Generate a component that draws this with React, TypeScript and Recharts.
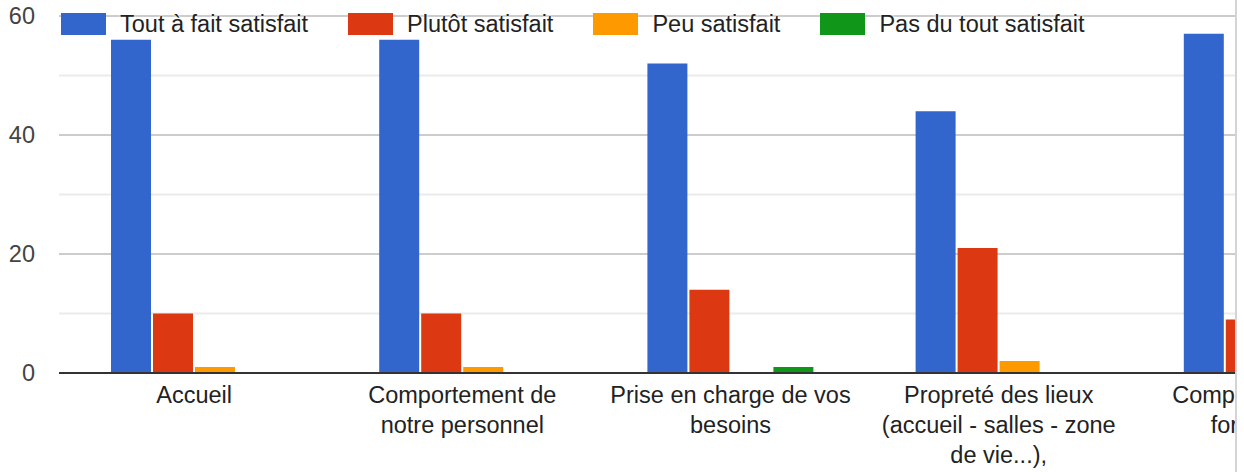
import React from "react";
import { BarChart, Bar, XAxis, YAxis, CartesianGrid } from "recharts";

// wrapped labels as drawn under the axis
const categoryLines = [
  ["Accueil"],
  ["Comportement de", "notre personnel"],
  ["Prise en charge de vos", "besoins"],
  ["Propreté des lieux", "(accueil - salles - zone", "de vie...),"],
  ["Compétences des", "formateurs"],
];
const categories = categoryLines.map(l => l.join(" "));

const toutAFait = [56, 56, 52, 44, 57];
const plutot = [10, 10, 14, 21, 9];
const peu = [1, 1, 0, 2, 0];
const pasDuTout = [0, 0, 1, 0, 0];

const yTicks = [0, 10, 20, 30, 40, 50, 60];

const series = [
  { key: "tout", name: "Tout à fait satisfait", color: "#3366cc" },
  { key: "plutot", name: "Plutôt satisfait", color: "#dc3912" },
  { key: "peu", name: "Peu satisfait", color: "#ff9900" },
  { key: "pas", name: "Pas du tout satisfait", color: "#109618" },
];

const data = categories.map((c, i) => ({
  name: c,
  tout: toutAFait[i],
  plutot: plutot[i],
  peu: peu[i],
  pas: pasDuTout[i],
}));

const FONT = "'Liberation Sans', Arial, sans-serif";
const FS = 23.5;

function CatTick(props: any) {
  const { x, y, payload } = props;
  const idx = categories.indexOf(payload.value);
  const lines = idx >= 0 ? categoryLines[idx] : [payload.value];
  return (
    <g transform={`translate(${x},${y})`}>
      <text textAnchor="middle" fill="#222" fontSize={FS} fontFamily={FONT}>
        {lines.map((l, i) => (
          <tspan key={i} x={0} dy={i === 0 ? 28 : 30}>{l}</tspan>
        ))}
      </text>
    </g>
  );
}

function YTick(props: any) {
  const { x, y, payload } = props;
  if (payload.value % 20 !== 0) return null;
  return (
    <text x={x} y={y} dy={8} textAnchor="end" fill="#444" fontSize={FS} fontFamily={FONT}>
      {payload.value}
    </text>
  );
}

function GridLine(p: any) {
  const major = p.index % 2 === 0;
  return (
    <line
      key={p.key}
      x1={p.x1}
      y1={p.y1}
      x2={p.x2}
      y2={p.y2}
      stroke={major ? "#cccccc" : "#ebebeb"}
      strokeWidth={2}
    />
  );
}

function LegendBox() {
  return (
    <div
      style={{
        position: "absolute",
        left: 61,
        top: 13,
        display: "flex",
        alignItems: "center",
        gap: 40,
        fontFamily: FONT,
        fontSize: FS,
        color: "#222",
        lineHeight: "22px",
      }}
    >
      {series.map(s => (
        <div key={s.key} style={{ display: "flex", alignItems: "center" }}>
          <span style={{ display: "inline-block", width: 45, height: 22, background: s.color, marginRight: 14 }} />
          <span style={{ textShadow: "0 0 3px #fff, 0 0 3px #fff", whiteSpace: "nowrap" }}>{s.name}</span>
        </div>
      ))}
    </div>
  );
}

export default function App() {
  return (
    <div style={{ position: "absolute", left: 0, top: 0, width: 1244, height: 472, background: "#fff" }}>
      <div
        style={{
          position: "absolute",
          left: 0,
          top: 0,
          width: 1235,
          height: 472,
          overflow: "hidden",
          borderRight: "2px solid #d4d4d4",
        }}
      >
        <BarChart
          width={1401}
          height={472}
          data={data}
          margin={{ top: 16, right: 0, bottom: 0, left: 0 }}
          barCategoryGap={51}
          barGap={2}
        >
          <CartesianGrid vertical={false} horizontal={GridLine as any} />
          <XAxis
            dataKey="name"
            interval={0}
            height={99}
            padding={{ left: 1, right: 0 }}
            tickLine={false}
            tickSize={0}
            tick={<CatTick />}
            axisLine={{ stroke: "#333", strokeWidth: 2 }}
          />
          <YAxis
            width={59}
            domain={[0, 60]}
            ticks={yTicks}
            interval={0}
            axisLine={false}
            tickLine={false}
            tickSize={0}
            tickMargin={24}
            tick={<YTick />}
          />
          {series.map(s => (
            <Bar key={s.key} dataKey={s.key} name={s.name} fill={s.color} barSize={40} isAnimationActive={false} />
          ))}
        </BarChart>
        <LegendBox />
      </div>
    </div>
  );
}
